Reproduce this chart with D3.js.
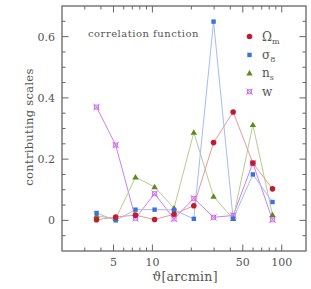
<!DOCTYPE html>
<html><head><meta charset="utf-8">
<script src="https://cdn.jsdelivr.net/npm/d3@7"></script>
<style>body{margin:0;background:#fff}svg{display:block}</style>
</head><body>
<svg id="c" width="311" height="289"></svg>
<script>
const theta = [3.7, 5.2, 7.4, 10.4, 14.7, 20.9, 29.7, 42.1, 59.8, 84.8];
const omegaM = [0.002, 0.011, 0.017, 0.003, 0.020, 0.048, 0.254, 0.354, 0.187, 0.103];
const sigma8 = [0.024, 0.000, 0.035, 0.035, 0.034, 0.005, 0.649, 0.005, 0.150, 0.060];
const nS     = [0.015, 0.005, 0.141, 0.109, 0.040, 0.287, 0.078, 0.005, 0.312, 0.018];
const wPar   = [0.370, 0.246, 0.007, 0.087, 0.005, 0.072, 0.010, 0.016, 0.187, 0.002];
const yTicks = [0, 0.2, 0.4, 0.6];
const xTickLabels = [5, 10, 50, 100];

const svg = d3.select("#c");
const L = 62, R = 306, T = 6, B = 251;
const x = d3.scaleLog().domain([2, 154]).range([L, R]);
const y = d3.scaleLinear().domain([-0.1, 0.7]).range([B, T]);
const axisCol = "#666", txtCol = "#555";
const font = "DejaVu Serif";

// ticks
const g = svg.append("g");
const minorX = [3,4,6,7,8,9,20,30,40,60,70,80,90];
const majorX = xTickLabels;
function vt(xx, len) {
  g.append("line").attr("x1", x(xx)).attr("x2", x(xx)).attr("y1", B).attr("y2", B - len).attr("stroke", axisCol);
  g.append("line").attr("x1", x(xx)).attr("x2", x(xx)).attr("y1", T).attr("y2", T + len).attr("stroke", axisCol);
}
minorX.forEach(v => vt(v, 3.5));
majorX.forEach(v => vt(v, 6.5));
const minorY = d3.range(-0.05, 0.7, 0.05).map(v => +v.toFixed(2)).filter(v => !yTicks.includes(v));
function ht(yy, len) {
  g.append("line").attr("y1", y(yy)).attr("y2", y(yy)).attr("x1", L).attr("x2", L + len).attr("stroke", axisCol);
  g.append("line").attr("y1", y(yy)).attr("y2", y(yy)).attr("x1", R).attr("x2", R - len).attr("stroke", axisCol);
}
minorY.forEach(v => ht(v, 3.5));
yTicks.forEach(v => ht(v, 6.5));

// frame
svg.append("rect").attr("x", L).attr("y", T).attr("width", R - L).attr("height", B - T)
  .attr("fill", "none").attr("stroke", axisCol).attr("stroke-width", 1.3);

// tick labels
svg.selectAll(".yl").data(yTicks).enter().append("text")
  .attr("x", L - 7).attr("y", d => y(d) + 4).attr("text-anchor", "end")
  .attr("font-family", font).attr("font-size", 11).attr("fill", txtCol)
  .text(d => d === 0 ? "0" : d.toFixed(1));
svg.selectAll(".xl").data(xTickLabels).enter().append("text")
  .attr("x", d => x(d)).attr("y", 266).attr("text-anchor", "middle")
  .attr("font-family", font).attr("font-size", 11).attr("fill", txtCol)
  .text(d => d);

// axis titles
svg.append("text").attr("x", 185).attr("y", 281).attr("text-anchor", "middle")
  .attr("font-family", font).attr("font-size", 12.5).attr("letter-spacing", 0.3).attr("fill", txtCol).text("ϑ[arcmin]");
svg.append("text").attr("transform", "translate(33,127) rotate(-90)").attr("text-anchor", "middle")
  .attr("font-family", font).attr("font-size", 11.5).attr("letter-spacing", 0.3).attr("fill", txtCol).text("contributing scales");
svg.append("text").attr("x", 88).attr("y", 37)
  .attr("font-family", font).attr("font-size", 10).attr("letter-spacing", 0.5).attr("fill", txtCol).text("correlation function");

// series
const series = [
  {name: "w", vals: wPar, col: "#cc66ee", line: "#cc80f0", sym: "xsq"},
  {name: "ns", vals: nS, col: "#5e8a1c", line: "#b8cc90", sym: "tri"},
  {name: "s8", vals: sigma8, col: "#3d6fe3", line: "#a5bdf3", sym: "sq"},
  {name: "om", vals: omegaM, col: "#c01c30", line: "#eb9a9a", sym: "circ"}
];
function marker(sel, sym, col, px, py) {
  if (sym === "circ") sel.append("circle").attr("cx", px).attr("cy", py).attr("r", 2.8).attr("fill", col);
  else if (sym === "sq") sel.append("rect").attr("x", px - 2.2).attr("y", py - 2.2).attr("width", 4.4).attr("height", 4.4).attr("fill", col);
  else if (sym === "tri") sel.append("path").attr("d", `M${px},${py-3.2}L${px+3.2},${py+2.2}L${px-3.2},${py+2.2}Z`).attr("fill", col);
  else {
    sel.append("rect").attr("x", px - 2).attr("y", py - 2).attr("width", 4).attr("height", 4).attr("fill", "none").attr("stroke", col).attr("stroke-width", 0.9);
    sel.append("path").attr("d", `M${px-3.2},${py-3.2}L${px+3.2},${py+3.2}M${px-3.2},${py+3.2}L${px+3.2},${py-3.2}`).attr("stroke", col).attr("stroke-width", 0.9);
  }
}
const line = d3.line().x(d => x(d[0])).y(d => y(d[1]));
series.forEach(s => {
  const pts = theta.map((t, i) => [t, s.vals[i]]);
  svg.append("path").attr("d", line(pts)).attr("fill", "none").attr("stroke", s.line).attr("stroke-width", 1);
});
series.forEach(s => {
  const gg = svg.append("g");
  theta.forEach((t, i) => marker(gg, s.sym, s.col, x(t), y(s.vals[i])));
});

// legend
const leg = [
  {sym: "circ", col: "#c01c30", main: "Ω", sub: "m"},
  {sym: "sq", col: "#3d6fe3", main: "σ", sub: "8"},
  {sym: "tri", col: "#5e8a1c", main: "n", sub: "s"},
  {sym: "xsq", col: "#cc66ee", main: "w", sub: ""}
];
leg.forEach((d, i) => {
  const yy = 36.5 + i * 18.4;
  const lg = svg.append("g");
  marker(lg, d.sym, d.col, 249.5, yy);
  const t = svg.append("text").attr("x", 262).attr("y", yy + 4)
    .attr("font-family", font).attr("font-size", 12).attr("fill", txtCol);
  t.append("tspan").text(d.main);
  if (d.sub) t.append("tspan").attr("dy", 3).attr("font-size", 8).text(d.sub);
});
</script>
</body></html>
